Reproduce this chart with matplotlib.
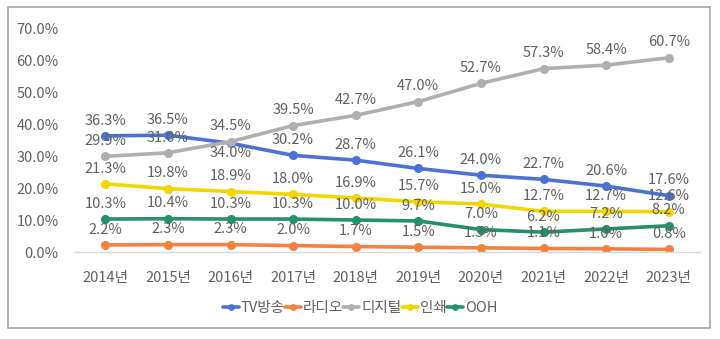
import matplotlib
matplotlib.use("Agg")
import matplotlib.pyplot as plt
from matplotlib.patches import Rectangle

plt.rcParams['font.family'] = ['Noto Sans CJK KR', 'DejaVu Sans']

years = ["2014년", "2015년", "2016년", "2017년", "2018년", "2019년", "2020년", "2021년", "2022년", "2023년"]
tv = [36.3, 36.5, 34.0, 30.2, 28.7, 26.1, 24.0, 22.7, 20.6, 17.6]
radio = [2.2, 2.3, 2.3, 2.0, 1.7, 1.5, 1.3, 1.1, 1.0, 0.8]
digital = [29.9, 31.0, 34.5, 39.5, 42.7, 47.0, 52.7, 57.3, 58.4, 60.7]
printed = [21.3, 19.8, 18.9, 18.0, 16.9, 15.7, 15.0, 12.7, 12.7, 12.6]
ooh = [10.3, 10.4, 10.3, 10.3, 10.0, 9.7, 7.0, 6.2, 7.2, 8.2]
names = ["TV방송", "라디오", "디지털", "인쇄", "OOH"]
colors = ["#4A72D6", "#F5813E", "#AFAFAF", "#F2D600", "#23916A"]
yticks = [0, 10, 20, 30, 40, 50, 60, 70]

W, H = 720, 339
fig = plt.figure(figsize=(W / 100, H / 100), dpi=100)
fig.patches.append(Rectangle((8 / W, 1 - 328 / H), (710 - 8) / W, (328 - 7) / H,
                             transform=fig.transFigure, fill=False,
                             edgecolor="#A6A6A6", linewidth=1.2))

ax = fig.add_axes([74 / W, 1 - 252 / H, (700 - 74) / W, (252 - 28) / H])
x = list(range(len(years)))
series = [tv, radio, digital, printed, ooh]
text_color = "#606060"
fs = 10.5
for vals, name, col in zip(series, names, colors):
    ax.plot(x, vals, color=col, linewidth=2.6, marker="o", markersize=5.5,
            label=name, solid_capstyle="round")
    for i, v in enumerate(vals):
        dy = 11
        if name == "TV방송" and i == 2:
            dy = -7
        ax.annotate(f"{v:.1f}%", (i, v), xytext=(0, dy), textcoords="offset points",
                    ha="center", va="center", fontsize=fs, color=text_color)

ax.set_xlim(-0.5, len(years) - 0.5)
ax.set_ylim(0, 70)
ax.set_yticks(yticks)
ax.set_yticklabels([f"{t:.1f}%" for t in yticks], fontsize=fs, color=text_color)
ax.set_xticks(x)
ax.set_xticklabels(years, fontsize=fs, color=text_color)
ax.tick_params(axis="both", length=0)
ax.tick_params(axis="x", pad=14)
ax.tick_params(axis="y", pad=11)
for s in ["top", "right", "left"]:
    ax.spines[s].set_visible(False)
ax.spines["bottom"].set_color("#D9D9D9")
ax.spines["bottom"].set_linewidth(1)
ax.patch.set_alpha(0)

handles, labels = ax.get_legend_handles_labels()
fig.legend(handles, labels, loc="center", bbox_to_anchor=(360 / W, 1 - 308 / H),
           ncol=5, frameon=False, fontsize=fs, handlelength=1.1,
           handletextpad=0.15, columnspacing=0.0, labelcolor=text_color,
           markerscale=0.7)

fig.savefig("out.png", dpi=100)
